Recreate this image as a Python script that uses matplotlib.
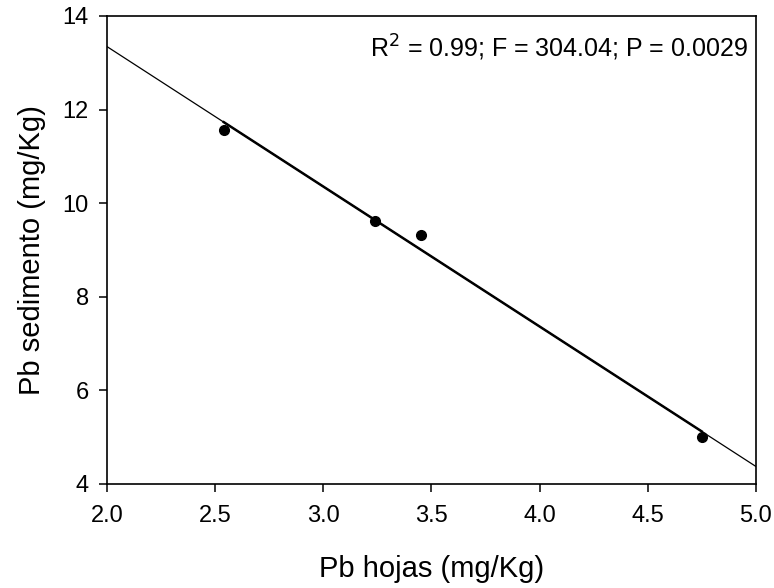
import numpy as np
import matplotlib
matplotlib.use("Agg")
import matplotlib.pyplot as plt

plt.rcParams['font.family'] = ['Liberation Sans', 'DejaVu Sans']

# datos
pb_hojas = [2.54, 3.24, 3.45, 4.75]
pb_sedimento = [11.56, 9.63, 9.31, 5.00]
x_ticks = [2.0, 2.5, 3.0, 3.5, 4.0, 4.5, 5.0]
y_ticks = [4, 6, 8, 10, 12, 14]

# regresion lineal
slope, intercept = np.polyfit(pb_hojas, pb_sedimento, 1)

fig = plt.figure(figsize=(7.74, 5.88), dpi=100)
ax = fig.add_axes([0.1382, 0.1769, 0.8385, 0.7959])

x_full = np.array([x_ticks[0], x_ticks[-1]])
ax.plot(x_full, slope * x_full + intercept, color='black', lw=0.9)
x_data = np.array([min(pb_hojas), max(pb_hojas)])
ax.plot(x_data, slope * x_data + intercept, color='black', lw=1.8)
ax.plot(pb_hojas, pb_sedimento, 'o', color='black', markersize=7)

ax.set_xlim(x_ticks[0], x_ticks[-1])
ax.set_ylim(y_ticks[0], y_ticks[-1])
ax.set_xticks(x_ticks)
ax.set_yticks(y_ticks)
ax.set_xticklabels([f'{v:.1f}' for v in x_ticks])
ax.tick_params(direction='out', length=6, width=1.1, labelsize=17, pad=7)
ax.tick_params(axis='x', pad=9)
ax.tick_params(top=False, right=False)
for s in ax.spines.values():
    s.set_linewidth(1.2)

ax.set_xlabel('Pb hojas (mg/Kg)', fontsize=21, labelpad=20)
ax.set_ylabel('Pb sedimento (mg/Kg)', fontsize=21, labelpad=12)

ax.text(0.988, 0.965, r'R$^2$ = 0.99; F = 304.04; P = 0.0029',
        transform=ax.transAxes, ha='right', va='top', fontsize=18)

fig.savefig('out.png', dpi=100)
